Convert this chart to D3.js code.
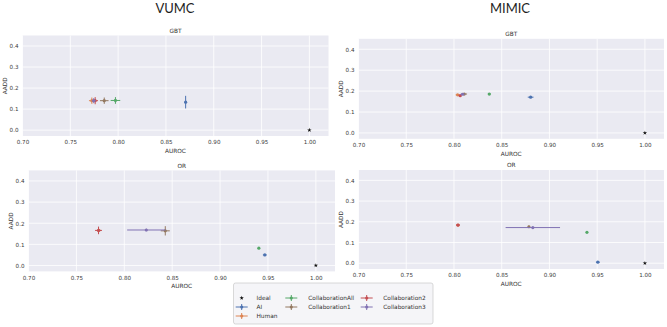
<!DOCTYPE html>
<html lang="en">
<head>
  <meta charset="UTF-8">
  <title>AUROC vs AADD</title>
  <style>
    body { margin: 0; background: #fff; }
    svg { display: block; font-family: "DejaVu Sans", sans-serif; }
    .tick-label { font-size: 5.6px; fill: #3a3a3a; }
    .axis-label { font-size: 5.8px; fill: #333; }
    .big-title { font-family: Lato, "Noto Sans", sans-serif; font-size: 13px; fill: #1e1e1e; }
  </style>
</head>
<body>
<svg width="667" height="327"></svg>

<script src="https://d3js.org/d3.v7.min.js"></script>
<script>
  const svg = d3.select("svg");

  // series in legend / draw order
  const seriesNames = ["Ideal", "AI", "Human", "CollaborationAll", "Collaboration1", "Collaboration2", "Collaboration3"];
  const seriesColors = ["#111111", "#4C72B0", "#DD8452", "#55A868", "#937860", "#C44E52", "#8172B3"];

  const xTicks = [0.70, 0.75, 0.80, 0.85, 0.90, 0.95, 1.00];
  const yTicks = [0.0, 0.1, 0.2, 0.3, 0.4];

  // VUMC - GBT
  const vumcGbtAuroc    = [1.0, 0.8706, 0.7725, 0.7972, 0.7855, 0.7760, 0.7745];
  const vumcGbtAadd     = [0.0, 0.133, 0.140, 0.141, 0.140, 0.140, 0.140];
  const vumcGbtAurocErr = [0, 0.001, 0.003, 0.005, 0.0045, 0.003, 0.002];
  const vumcGbtAaddErr  = [0, 0.030, 0.015, 0.016, 0.015, 0.017, 0.012];

  // MIMIC - GBT
  const mimicGbtAuroc    = [1.0, 0.8803, 0.8038, 0.8370, 0.8107, 0.8065, 0.8090];
  const mimicGbtAadd     = [0.0, 0.171, 0.182, 0.186, 0.186, 0.178, 0.185];
  const mimicGbtAurocErr = [0, 0.003, 0.002, 0.0015, 0.003, 0.0015, 0.002];
  const mimicGbtAaddErr  = [0, 0.003, 0.004, 0.004, 0.002, 0.003, 0.002];

  // VUMC - OR
  const vumcOrAuroc    = [1.0, 0.9467, 0.7735, 0.9405, 0.8428, 0.7731, 0.8230];
  const vumcOrAadd     = [0.0, 0.050, 0.166, 0.082, 0.164, 0.166, 0.168];
  const vumcOrAurocErr = [0, 0.002, 0.002, 0.001, 0.0047, 0.0036, 0.020];
  const vumcOrAaddErr  = [0, 0.003, 0.005, 0.003, 0.022, 0.018, 0.006];

  // MIMIC - OR
  const mimicOrAuroc    = [1.0, 0.9507, 0.8042, 0.9393, 0.8785, 0.8042, 0.8826];
  const mimicOrAadd     = [0.0, 0.005, 0.184, 0.149, 0.176, 0.184, 0.172];
  const mimicOrAurocErr = [0, 0.002, 0.002, 0.001, 0.001, 0.002, 0.0285];
  const mimicOrAaddErr  = [0, 0.003, 0.004, 0.003, 0.006, 0.003, 0.003];

  const xDomain = [0.70, 1.02];
  const yDomain = [-0.028, 0.45];

  // panel layout (pixel boxes)
  const panels = [
    { title: "GBT", left: 22.5, top: 35.5, w: 306, h: 100.5,
      x: vumcGbtAuroc, y: vumcGbtAadd, xe: vumcGbtAurocErr, ye: vumcGbtAaddErr },
    { title: "GBT", left: 358.5, top: 38.8, w: 305.5, h: 100,
      x: mimicGbtAuroc, y: mimicGbtAadd, xe: mimicGbtAurocErr, ye: mimicGbtAaddErr },
    { title: "OR", left: 28.5, top: 170.4, w: 306.5, h: 101,
      x: vumcOrAuroc, y: vumcOrAadd, xe: vumcOrAurocErr, ye: vumcOrAaddErr },
    { title: "OR", left: 358.5, top: 170, w: 305.5, h: 99,
      x: mimicOrAuroc, y: mimicOrAadd, xe: mimicOrAurocErr, ye: mimicOrAaddErr }
  ];

  // big dataset titles
  svg.append("text").attr("class", "big-title").attr("x", 175).attr("y", 12.5)
    .attr("text-anchor", "middle").text("VUMC");
  svg.append("text").attr("class", "big-title").attr("x", 510).attr("y", 12.5)
    .attr("text-anchor", "middle").text("MIMIC");

  const star = d3.symbol().type(d3.symbolStar).size(6);

  panels.forEach(p => {
    const x = d3.scaleLinear().domain(xDomain).range([p.left, p.left + p.w]);
    const y = d3.scaleLinear().domain(yDomain).range([p.top + p.h, p.top]);
    const g = svg.append("g");

    g.append("rect")
      .attr("x", p.left).attr("y", p.top)
      .attr("width", p.w).attr("height", p.h)
      .attr("fill", "#EAEAF2");

    // grid
    g.selectAll(".vg").data(xTicks).enter().append("line")
      .attr("x1", d => x(d)).attr("x2", d => x(d))
      .attr("y1", p.top).attr("y2", p.top + p.h)
      .attr("stroke", "#fff").attr("stroke-width", 0.8);
    g.selectAll(".hg").data(yTicks).enter().append("line")
      .attr("y1", d => y(d)).attr("y2", d => y(d))
      .attr("x1", p.left).attr("x2", p.left + p.w)
      .attr("stroke", "#fff").attr("stroke-width", 0.8);

    // axes (labels only)
    const xAxis = g.append("g")
      .attr("transform", `translate(0,${p.top + p.h})`)
      .call(d3.axisBottom(x).tickValues(xTicks).tickFormat(d3.format(".2f")).tickSize(0).tickPadding(4.5));
    const yAxis = g.append("g")
      .attr("transform", `translate(${p.left},0)`)
      .call(d3.axisLeft(y).tickValues(yTicks).tickFormat(d3.format(".1f")).tickSize(0).tickPadding(4));
    [xAxis, yAxis].forEach(a => {
      a.select(".domain").remove();
      a.selectAll("text").attr("class", "tick-label").attr("fill", null)
        .style("font-family", "DejaVu Sans, sans-serif");
      a.attr("font-size", null).attr("font-family", null);
    });

    g.append("text").attr("class", "axis-label")
      .attr("x", p.left + p.w / 2).attr("y", p.top - 2.8)
      .attr("text-anchor", "middle").text(p.title);
    g.append("text").attr("class", "axis-label")
      .attr("x", p.left + p.w / 2).attr("y", p.top + p.h + 17)
      .attr("text-anchor", "middle").text("AUROC");
    g.append("text").attr("class", "axis-label")
      .attr("transform", `translate(${p.left - 15.5},${p.top + p.h / 2}) rotate(-90)`)
      .attr("text-anchor", "middle").text("AADD");

    // points with error bars
    seriesNames.forEach((name, i) => {
      const cx = x(p.x[i]), cy = y(p.y[i]);
      const c = seriesColors[i];
      if (name === "Ideal") {
        g.append("path").attr("d", star).attr("transform", `translate(${cx},${cy})`).attr("fill", c);
        return;
      }
      g.append("line")
        .attr("x1", x(p.x[i] - p.xe[i])).attr("x2", x(p.x[i] + p.xe[i]))
        .attr("y1", cy).attr("y2", cy)
        .attr("stroke", c).attr("stroke-width", 1);
      g.append("line")
        .attr("x1", cx).attr("x2", cx)
        .attr("y1", y(p.y[i] - p.ye[i])).attr("y2", y(p.y[i] + p.ye[i]))
        .attr("stroke", c).attr("stroke-width", 1);
      g.append("circle").attr("cx", cx).attr("cy", cy).attr("r", 1.6).attr("fill", c);
    });
  });

  // legend
  const legendCols = [
    { mx: 241.7, tx: 256.5, items: [0, 1, 2] },
    { mx: 291.3, tx: 308.3, items: [3, 4] },
    { mx: 366.7, tx: 383.3, items: [5, 6] }
  ];
  const rowY = [298, 307, 316];
  const lg = svg.append("g");
  lg.append("rect")
    .attr("x", 233.5).attr("y", 283).attr("width", 199.5).attr("height", 41)
    .attr("rx", 2).attr("fill", "#f5f5f8").attr("stroke", "#c8c8c8").attr("stroke-width", 0.7);

  legendCols.forEach(col => {
    col.items.forEach((i, r) => {
      const yy = rowY[r];
      const c = seriesColors[i];
      if (seriesNames[i] === "Ideal") {
        lg.append("path").attr("d", star).attr("transform", `translate(${col.mx},${yy})`).attr("fill", c);
      } else {
        lg.append("line").attr("x1", col.mx - 6).attr("x2", col.mx + 6)
          .attr("y1", yy).attr("y2", yy).attr("stroke", c).attr("stroke-width", 1);
        lg.append("line").attr("x1", col.mx).attr("x2", col.mx)
          .attr("y1", yy - 3).attr("y2", yy + 3).attr("stroke", c).attr("stroke-width", 1);
        lg.append("circle").attr("cx", col.mx).attr("cy", yy).attr("r", 1.6).attr("fill", c);
      }
      lg.append("text").attr("class", "axis-label")
        .attr("x", col.tx).attr("y", yy + 2)
        .text(seriesNames[i]);
    });
  });
</script>
</body>
</html>
